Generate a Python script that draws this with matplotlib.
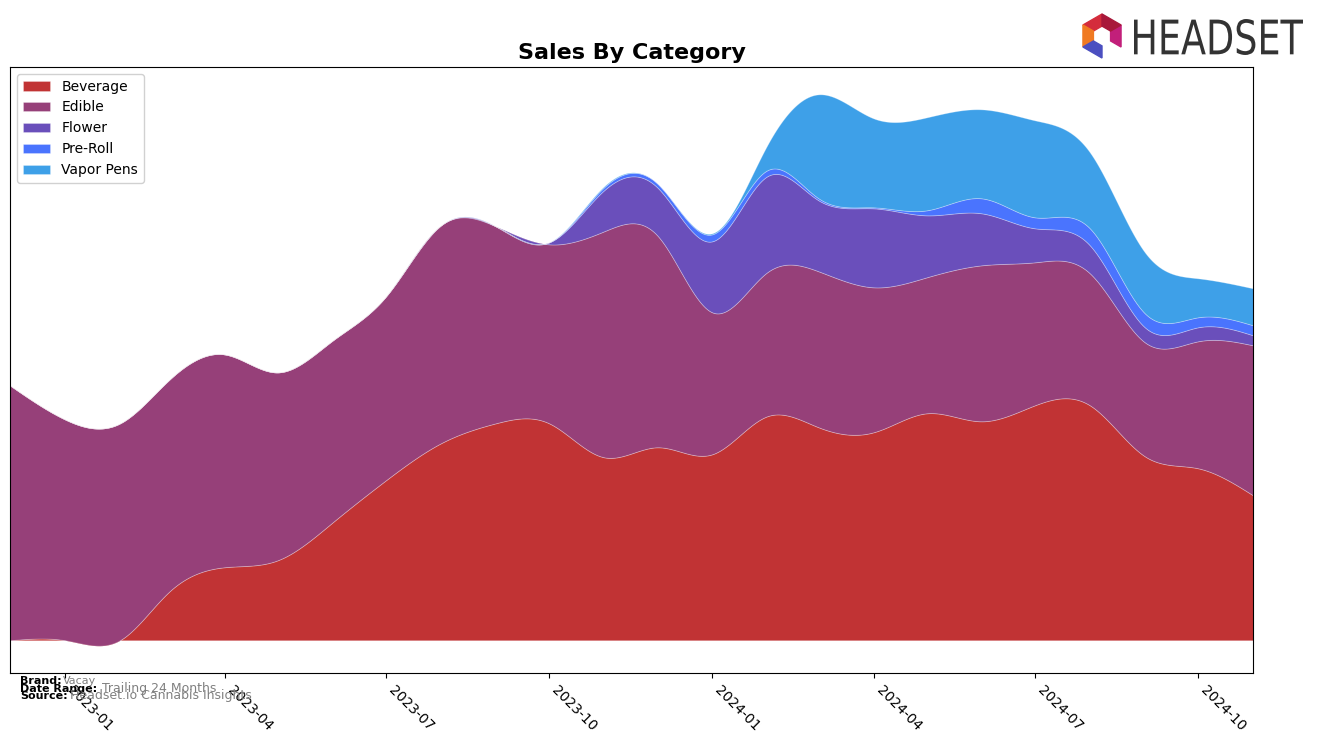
import numpy as np
import matplotlib
matplotlib.use("Agg")
import matplotlib.pyplot as plt
import matplotlib.dates as mdates
from matplotlib.patches import Polygon, PathPatch
from matplotlib.textpath import TextPath
from matplotlib.font_manager import FontProperties
from matplotlib.transforms import Affine2D, IdentityTransform

# monthly sales by category (arbitrary units)
months = [
    "2022-12", "2023-01", "2023-02", "2023-03", "2023-04", "2023-05",
    "2023-06", "2023-07", "2023-08", "2023-09", "2023-10", "2023-11",
    "2023-12", "2024-01", "2024-02", "2024-03", "2024-04", "2024-05",
    "2024-06", "2024-07", "2024-08", "2024-09", "2024-10", "2024-11",
]
categories = ["Beverage", "Edible", "Flower", "Pre-Roll", "Vapor Pens"]
beverage = [0, 0, 0, 49, 73, 80, 118, 160, 197, 217, 217, 183,
            193, 186, 224, 213, 208, 227, 219, 235, 235, 184, 172, 145]
edible = [255, 221, 217, 212, 213, 188, 182, 184, 218, 197, 179, 226,
          212, 142, 144, 156, 145, 136, 156, 143, 132, 114, 127, 150]
flower = [0, 0, 0, 0, 0, 0, 0, 0, 0, 0, 2, 41,
          48, 71, 96, 71, 79, 62, 52, 34, 28, 15, 14, 10]
pre_roll = [0, 0, 0, 0, 0, 0, 0, 0, 0, 0, 0, 3,
            4, 7, 6, 2, 1, 5, 15, 11, 17, 14, 10, 10]
vapor_pens = [0, 0, 0, 0, 0, 0, 0, 0, 0, 0, 0, 1,
              0, 1, 25, 104, 89, 93, 89, 97, 76, 61, 39, 37]
colors = ["#c13334", "#964079", "#6a4fbb", "#4a74fe", "#3ea0e8"]


def natural_spline(x, y, xs):
    """natural cubic spline through (x, y), evaluated at xs"""
    x = np.asarray(x, float)
    y = np.asarray(y, float)
    n = len(x)
    h = np.diff(x)
    A = np.zeros((n, n))
    r = np.zeros(n)
    A[0, 0] = A[-1, -1] = 1
    for i in range(1, n - 1):
        A[i, i - 1] = h[i - 1]
        A[i, i] = 2 * (h[i - 1] + h[i])
        A[i, i + 1] = h[i]
        r[i] = 6 * ((y[i + 1] - y[i]) / h[i] - (y[i] - y[i - 1]) / h[i - 1])
    m = np.linalg.solve(A, r)
    idx = np.clip(np.searchsorted(x, xs) - 1, 0, n - 2)
    x0, x1 = x[idx], x[idx + 1]
    hh = x1 - x0
    t0, t1 = x1 - xs, xs - x0
    return (m[idx] * t0**3 / (6 * hh) + m[idx + 1] * t1**3 / (6 * hh)
            + (y[idx] / hh - m[idx] * hh / 6) * t0
            + (y[idx + 1] / hh - m[idx + 1] * hh / 6) * t1)


x = mdates.date2num(np.array([m + "-01" for m in months], dtype="datetime64[D]"))
xs = np.linspace(x[0], x[-1], 800)
series = [beverage, edible, flower, pre_roll, vapor_pens]
smooth = [natural_spline(x, s, xs) for s in series]

W, H = 1317, 743
fig = plt.figure(figsize=(W / 100, H / 100), dpi=100)
ax = fig.add_axes([10 / W, 1 - 673 / H, 1243 / W, 606 / H])
ax.stackplot(xs, *smooth, labels=categories, colors=colors,
             edgecolor=(1, 1, 1, 0.3), linewidth=0.6)

top = np.sum(smooth, axis=0).max()
ax.set_xlim(x[0], x[-1])
ax.set_ylim(-0.06 * top, 1.05 * top)
ax.set_yticks([])
ax.xaxis.set_major_locator(mdates.MonthLocator(bymonth=[1, 4, 7, 10]))
ax.xaxis.set_major_formatter(mdates.DateFormatter("%Y-%m"))
plt.setp(ax.get_xticklabels(), rotation=-45, ha="left", fontsize=10)
ax.set_title("Sales By Category", fontsize=16, fontweight="bold", pad=6)
ax.legend(loc="upper left", fontsize=10, framealpha=0.9)

# footer
fig.text(20 / W, 1 - 684 / H, "Brand:", fontsize=8, fontweight="bold")
fig.text(63 / W, 1 - 684 / H, "Vacay", fontsize=8, color="gray")
fig.text(20 / W, 1 - 692 / H, "Date Range:", fontsize=8, fontweight="bold")
fig.text(102 / W, 1 - 692 / H, "Trailing 24 Months", fontsize=9, color="gray")
fig.text(20 / W, 1 - 699 / H, "Source:", fontsize=8, fontweight="bold")
fig.text(70 / W, 1 - 699 / H, "Headset.io Cannabis Insights", fontsize=9, color="gray")

# logo text, squeezed into its box (pixels from bottom-left)
tp = TextPath((0, 0), "HEADSET", size=40, prop=FontProperties(family="DejaVu Sans"))
bb = tp.get_extents()
x0, x1, y0, y1 = 1134, 1303, H - 55, H - 19
tr = (Affine2D().translate(-bb.x0, -bb.y0)
      .scale((x1 - x0) / bb.width, (y1 - y0) / bb.height).translate(x0, y0))
fig.patches.append(PathPatch(tr.transform_path(tp), color="#333333", lw=0,
                             transform=IdentityTransform()))

# logo icon
cx, cy = 1102 / W, 1 - 36 / H
sx, sy = 22 / W, 22 / H
ang = np.deg2rad(np.array([90, 150, 210, 270, 330, 30, 90]))
pts = [(cx + sx * np.cos(a), cy + sy * np.sin(a)) for a in ang]
inner = [(cx + 0.45 * sx * np.cos(a), cy + 0.45 * sy * np.sin(a)) for a in ang]
seg_colors = ["#d42c3c", "#f07a22", "#4b4fc0", "#3c3c9a", "#c21f7a", "#a8183a"]
for i, c in enumerate(seg_colors):
    if i == 3:
        continue
    poly = Polygon([pts[i], pts[i + 1], inner[i + 1], inner[i]], closed=True,
                   transform=fig.transFigure, color=c)
    fig.patches.append(poly)

fig.savefig("out.png", dpi=100)
